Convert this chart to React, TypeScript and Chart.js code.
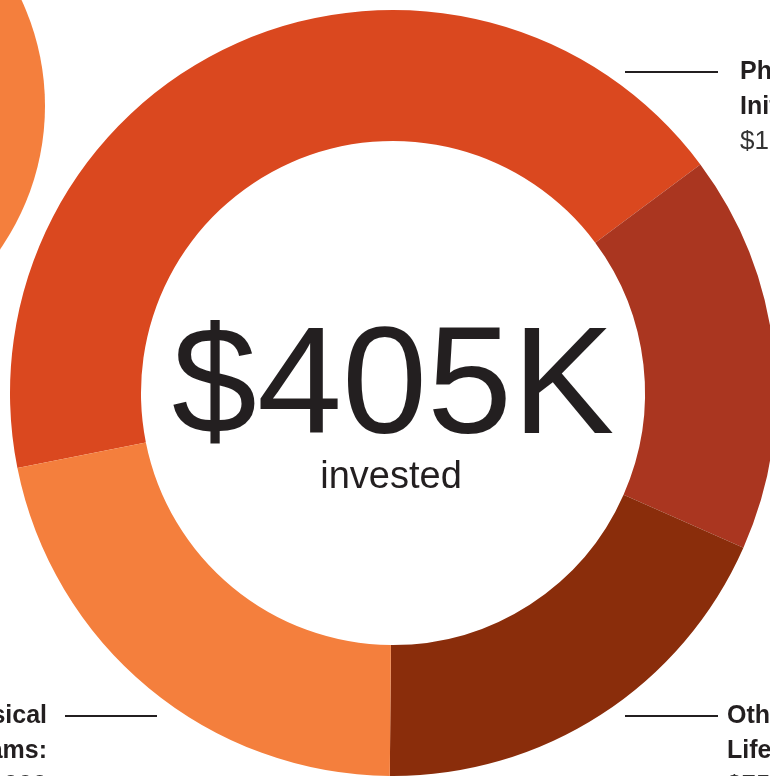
import React, { useEffect, useRef } from "react";
import { Chart, registerables } from "chart.js";

Chart.register(...registerables);

const categories = ["Physician Initiatives", "Other Initiatives", "Other Lifestyle Programs", "Physical Activity Programs"];
const values = [174, 68, 75, 88]; // $K
const colors = ["#DA481F", "#AA3620", "#8A2D0B", "#F47F3D"];
const totalLabel = "$405K";
const totalSub = "invested";
const calloutTitles = [["Physician", "Initiatives:"], ["Other", "Lifestyle Programs:"], ["Physical", "Activity Programs:"]];
const calloutAmounts = ["$174,000", "$75,000", "$88,000"];

const FONT = "'Liberation Sans', Arial, Helvetica, sans-serif";
const INK = "#231f20";

const overlay = {
  id: "overlay",
  beforeDraw(chart: any) {
    const ctx = chart.ctx;
    ctx.save();
    ctx.fillStyle = "#F47F3D";
    ctx.beginPath();
    ctx.arc(-206, 106, 251, 0, Math.PI * 2);
    ctx.fill();
    ctx.restore();
  },
  afterDraw(chart: any) {
    const ctx = chart.ctx;
    ctx.save();
    ctx.fillStyle = INK;
    ctx.textAlign = "center";
    ctx.textBaseline = "alphabetic";
    ctx.font = `153px ${FONT}`;
    ctx.fillText(totalLabel, 393, 433);
    ctx.font = `38px ${FONT}`;
    ctx.fillText(totalSub, 391, 488);

    ctx.strokeStyle = INK;
    ctx.lineWidth = 2;
    const lines = [
      [625, 718, 72],
      [625, 718, 716],
      [65, 157, 716],
    ];
    lines.forEach(([a, b, y]) => {
      ctx.beginPath();
      ctx.moveTo(a, y);
      ctx.lineTo(b, y);
      ctx.stroke();
    });

    const blocks = [
      { x: 740, y: 79, align: "left" },
      { x: 727, y: 723, align: "left" },
      { x: 47, y: 723, align: "right" },
    ];
    blocks.forEach((bk, i) => {
      ctx.textAlign = bk.align;
      ctx.fillStyle = INK;
      ctx.font = `bold 25px ${FONT}`;
      calloutTitles[i].forEach((t, j) => ctx.fillText(t, bk.x, bk.y + j * 35));
      ctx.fillStyle = "#333";
      ctx.font = `26px ${FONT}`;
      ctx.fillText(calloutAmounts[i], bk.x, bk.y + 70);
    });
    ctx.restore();
  },
};

export default function App() {
  const ref = useRef<HTMLCanvasElement>(null);
  useEffect(() => {
    const chart = new Chart(ref.current!, {
      type: "doughnut",
      data: {
        labels: categories,
        datasets: [
          {
            data: values,
            backgroundColor: colors,
            borderWidth: 0,
            hoverOffset: 0,
          },
        ],
      },
      options: {
        responsive: false,
        devicePixelRatio: 1,
        animation: false,
        cutout: "65.8%",
        rotation: 258.7,
        layout: { padding: { left: 10, top: 10, right: 224, bottom: 224 } },
        plugins: { legend: { display: false }, tooltip: { enabled: false } },
      },
      plugins: [overlay],
    } as any);
    return () => chart.destroy();
  }, []);
  return (
    <div style={{ position: "fixed", left: 0, top: 0, width: "100vw", height: "100vh", overflow: "hidden", background: "#fff" }}>
      <canvas ref={ref} width={1000} height={1000} style={{ position: "absolute", left: 0, top: 0, width: 1000, height: 1000 }} />
    </div>
  );
}
